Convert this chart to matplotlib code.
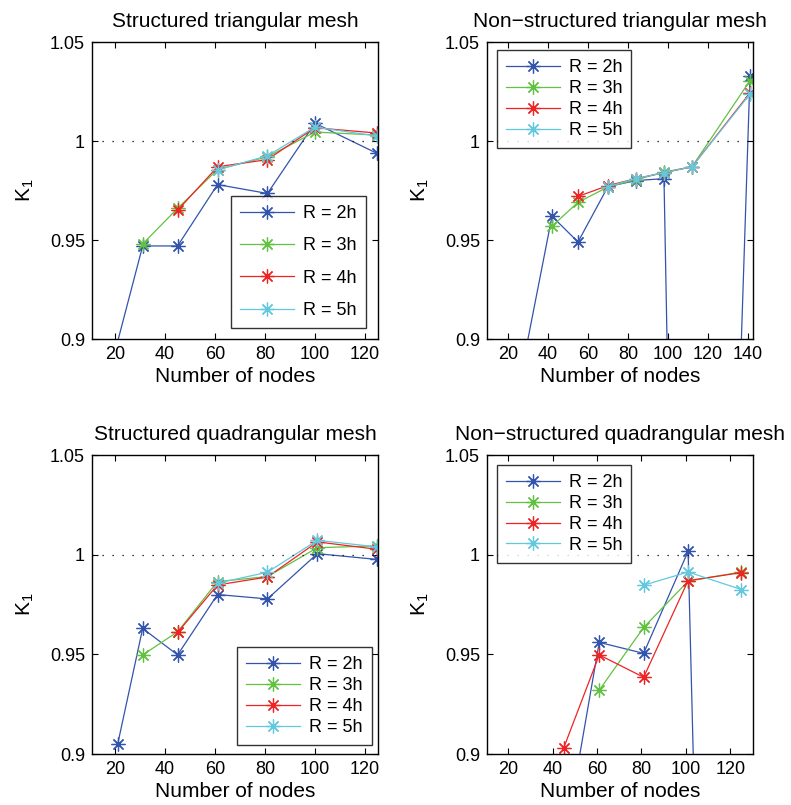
import matplotlib
matplotlib.use('Agg')
import matplotlib.pyplot as plt

plt.rcParams['font.family'] = ['Liberation Sans', 'DejaVu Sans']
plt.rcParams['mathtext.default'] = 'regular'

# ---- data (K_1 vs number of nodes) ----
labels = ['R = 2h', 'R = 3h', 'R = 4h', 'R = 5h']
colors = ['#3354ac', '#62c142', '#ee2424', '#62c8de']

# structured triangular mesh
stri_n2 = [20, 31, 45, 61, 81, 100, 125]
stri_k2 = [0.894, 0.947, 0.947, 0.978, 0.9735, 1.009, 0.9937]
stri_n3 = [31, 45, 61, 81, 100, 125]
stri_k3 = [0.948, 0.966, 0.9856, 0.992, 1.0045, 1.003]
stri_n4 = [45, 61, 81, 100, 125]
stri_k4 = [0.965, 0.987, 0.9906, 1.0067, 1.004]
stri_n5 = [61, 81, 100, 125]
stri_k5 = [0.9855, 0.9925, 1.007, 1.0025]

# non-structured triangular mesh
ntri_n2 = [10, 42, 55, 70, 84, 98, 112, 126, 141]
ntri_k2 = [0.797, 0.962, 0.949, 0.977, 0.980, 0.981, 0.225, 0.569, 1.033]
ntri_n3 = [42, 55, 70, 84, 98, 112, 141]
ntri_k3 = [0.957, 0.969, 0.9768, 0.9805, 0.9843, 0.987, 1.0305]
ntri_n4 = [55, 70, 84, 98, 112, 141]
ntri_k4 = [0.972, 0.9775, 0.981, 0.984, 0.987, 1.0243]
ntri_n5 = [70, 84, 98, 112, 141]
ntri_k5 = [0.977, 0.981, 0.984, 0.987, 1.0237]

# structured quadrangular mesh
squad_n2 = [21, 31, 45, 61, 81, 101, 125]
squad_k2 = [0.905, 0.963, 0.9497, 0.980, 0.9778, 1.0005, 0.9976]
squad_n3 = [31, 45, 61, 81, 101, 125]
squad_k3 = [0.9497, 0.9613, 0.9865, 0.989, 1.0035, 1.0044]
squad_n4 = [45, 61, 81, 101, 125]
squad_k4 = [0.961, 0.9848, 0.9888, 1.0064, 1.0027]
squad_n5 = [61, 81, 101, 125]
squad_k5 = [0.9857, 0.9912, 1.0072, 1.0039]

# non-structured quadrangular mesh
nquad_n2 = [45, 61, 81, 101, 125]
nquad_k2 = [0.853, 0.956, 0.9505, 1.0017, -0.06]
nquad_n3 = [61, 81, 101, 125]
nquad_k3 = [0.932, 0.9635, 0.9867, 0.9913]
nquad_n4 = [45, 61, 81, 101, 125]
nquad_k4 = [0.903, 0.9497, 0.9385, 0.987, 0.991]
nquad_n5 = [81, 101, 125]
nquad_k5 = [0.9847, 0.9913, 0.9825]

W, H = 791, 805
fig = plt.figure(figsize=(W / 100, H / 100), dpi=100)


def box(l, r, t, b):
    return [l / W, (H - b) / H, (r - l) / W, (b - t) / H]


panels = [
    dict(title='Structured triangular mesh', pos=box(92, 378, 42, 339),
         xlim=(10.7, 125.3), xt=[20, 40, 60, 80, 100, 120],
         series=[(stri_n2, stri_k2), (stri_n3, stri_k3), (stri_n4, stri_k4), (stri_n5, stri_k5)],
         leg=dict(loc='lower right', bbox_to_anchor=(0.958, 0.037), labelspacing=0.85)),
    dict(title='Non\u2212structured triangular mesh', pos=box(487, 753, 42, 339),
         xlim=(9.5, 142.5), xt=[20, 40, 60, 80, 100, 120, 140],
         series=[(ntri_n2, ntri_k2), (ntri_n3, ntri_k3), (ntri_n4, ntri_k4), (ntri_n5, ntri_k5)],
         leg=dict(loc='upper left', bbox_to_anchor=(0.036, 0.973), labelspacing=0.22)),
    dict(title='Structured quadrangular mesh', pos=box(92, 378, 455, 754),
         xlim=(10.7, 125.3), xt=[20, 40, 60, 80, 100, 120],
         series=[(squad_n2, squad_k2), (squad_n3, squad_k3), (squad_n4, squad_k4), (squad_n5, squad_k5)],
         leg=dict(loc='lower right', bbox_to_anchor=(0.979, 0.030), labelspacing=0.22)),
    dict(title='Non\u2212structured quadrangular mesh', pos=box(487, 753, 455, 754),
         xlim=(10.5, 130.2), xt=[20, 40, 60, 80, 100, 120],
         series=[(nquad_n2, nquad_k2), (nquad_n3, nquad_k3), (nquad_n4, nquad_k4), (nquad_n5, nquad_k5)],
         leg=dict(loc='upper left', bbox_to_anchor=(0.036, 0.967), labelspacing=0.22)),
]

for p in panels:
    ax = fig.add_axes(p['pos'])
    for (n, k), c, lab in zip(p['series'], colors, labels):
        ax.plot(n, k, '-', marker=(8, 2, 0), color=c, lw=0.9, ms=10, mew=0.9, label=lab)
    ax.axhline(1.0, color='black', ls=(0, (1, 7)), lw=0.9)
    ax.set_xlim(*p['xlim'])
    ax.set_ylim(0.9, 1.05)
    ax.set_xticks(p['xt'])
    ax.set_yticks([0.9, 0.95, 1.0, 1.05])
    ax.set_yticklabels(['0.9', '0.95', '1', '1.05'])
    ax.tick_params(direction='in', top=True, right=True, length=4, width=0.8,
                   labelsize=13, pad=5)
    for s in ax.spines.values():
        s.set_linewidth(1.0)
    ax.set_title(p['title'], fontsize=15, pad=11)
    ax.set_xlabel('Number of nodes', fontsize=15, labelpad=3)
    ax.set_ylabel('K$_1$', fontsize=15, labelpad=10)
    lg = ax.legend(fontsize=13, frameon=True, fancybox=False, borderaxespad=0,
                   handlelength=3.0, handletextpad=0.5, borderpad=0.5,
                   **p['leg'])
    lg.get_frame().set_edgecolor('black')
    lg.get_frame().set_linewidth(1.0)

fig.savefig('out.png', dpi=100)
